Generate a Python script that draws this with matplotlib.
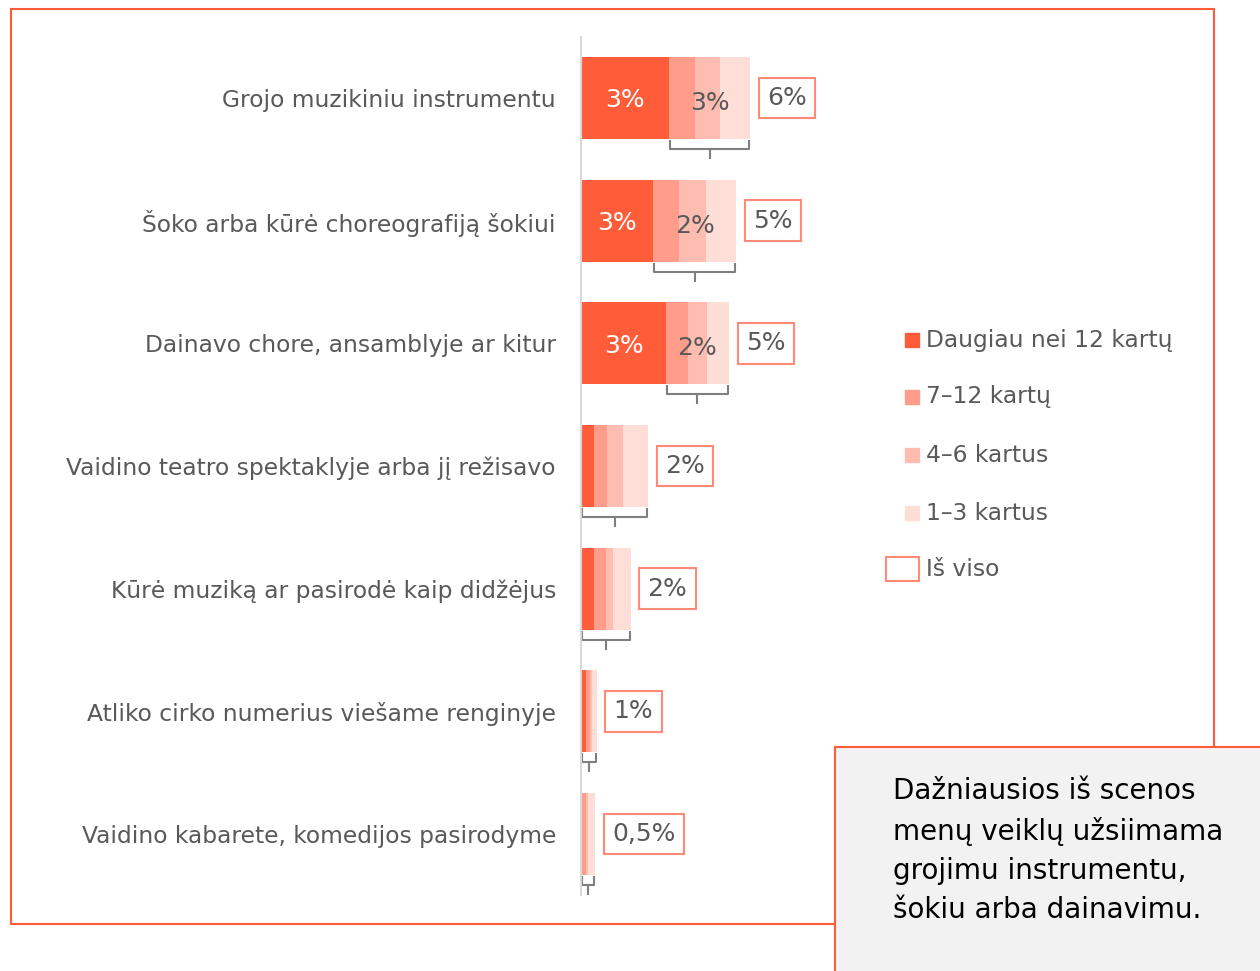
import numpy as np
import matplotlib.pyplot as plt
from matplotlib.patches import Rectangle

categories = [
    'Grojo muzikiniu instrumentu',
    'Šoko arba kūrė choreografiją šokiui',
    'Dainavo chore, ansamblyje ar kitur',
    'Vaidino teatro spektaklyje arba jį režisavo',
    'Kūrė muziką ar pasirodė kaip didžėjus',
    'Atliko cirko numerius viešame renginyje',
    'Vaidino kabarete, komedijos pasirodyme',
]
over_12 = [3.09, 2.53, 2.98, 0.46, 0.46, 0.18, 0.02]
from_7_12 = [0.91, 0.91, 0.77, 0.45, 0.42, 0.12, 0.14]
from_4_6 = [0.88, 0.95, 0.67, 0.56, 0.25, 0.09, 0.10]
from_1_3 = [1.05, 1.05, 0.77, 0.89, 0.61, 0.16, 0.23]
over_12_labels = ['3%', '3%', '3%', '', '', '', '']
rest_labels = ['3%', '2%', '2%', '', '', '', '']
total_labels = ['6%', '5%', '5%', '2%', '2%', '1%', '0,5%']
series_names = ['Daugiau nei 12 kartų', '7–12 kartų', '4–6 kartus', '1–3 kartus']

colors = ['#FF5C3A', '#FF9D8A', '#FFBDB1', '#FFDED8']
orange = '#FF5C3A'
box_edge = '#FF8A76'
grey_text = '#595959'

plt.rcParams['font.family'] = ['DejaVu Sans']

W, H = 1260, 971
fig = plt.figure(figsize=(W / 100, H / 100), dpi=100)

# outer frame
fig.patches.append(Rectangle((11 / W, 1 - 924 / H), (1214 - 11) / W, (924 - 9) / H,
                             transform=fig.transFigure, fill=False,
                             edgecolor=orange, linewidth=1.5, zorder=0))

ax = fig.add_axes([581 / W, 1 - 895.4 / H, 285 / W, 858.8 / H])
y = np.arange(len(categories))
left = np.zeros(len(categories))
for vals, c in zip([over_12, from_7_12, from_4_6, from_1_3], colors):
    ax.barh(y, vals, left=left, height=0.67, color=c, linewidth=0)
    left = left + np.array(vals)
totals = left

ax.set_xlim(0, 10)
ax.set_ylim(len(categories) - 0.5, -0.5)
for s in ['top', 'right', 'bottom']:
    ax.spines[s].set_visible(False)
ax.spines['left'].set_color('#D9D9D9')
ax.spines['left'].set_linewidth(1.5)
ax.set_xticks([])
ax.set_yticks(y)
ax.set_yticklabels(categories, fontsize=16.8, color=grey_text)
ax.tick_params(axis='y', length=0, pad=18)

for i in range(len(categories)):
    # bracket under the lighter segments (or the whole bar for small ones)
    x0 = over_12[i] if over_12_labels[i] else 0
    x1 = totals[i]
    ax.plot([x0 + 0.03, x0 + 0.03, x1 - 0.03, x1 - 0.03],
            [i + 0.35, i + 0.416, i + 0.416, i + 0.35],
            color='#7F7F7F', lw=1.5, solid_joinstyle='round')
    xm = (x0 + x1) / 2
    ax.plot([xm, xm], [i + 0.416, i + 0.49], color='#7F7F7F', lw=1.5)

    if over_12_labels[i]:
        ax.text(over_12[i] / 2, i + 0.02, over_12_labels[i], ha='center', va='center',
                color='white', fontsize=18)
        ax.text((over_12[i] + totals[i]) / 2, i + 0.04, rest_labels[i], ha='center',
                va='center', color=grey_text, fontsize=18)
    ax.annotate(total_labels[i], (totals[i], i), xytext=(17, 0), textcoords='offset pixels',
                ha='left', va='center', fontsize=18, color=grey_text,
                bbox=dict(boxstyle='square,pad=0.33', fc='white', ec=box_edge, lw=1.5))

# legend
leg_y = [340, 397, 455, 513]
for name, c, ly in zip(series_names, colors, leg_y):
    fig.patches.append(Rectangle((905 / W, 1 - (ly + 7) / H), 14 / W, 14 / H,
                                 transform=fig.transFigure, color=c))
    fig.text(926 / W, 1 - ly / H, name, ha='left', va='center', fontsize=16.8, color=grey_text)
fig.patches.append(Rectangle((886 / W, 1 - 581 / H), 33 / W, 24 / H,
                             transform=fig.transFigure, fc='white', ec=box_edge, lw=1.5))
fig.text(926 / W, 1 - 570 / H, 'Iš viso', ha='left', va='center', fontsize=16.8, color=grey_text)

# note box
fig.patches.append(Rectangle((835 / W, -0.05), 0.5, 1 - 747 / H + 0.05,
                             transform=fig.transFigure, fc='#F2F2F2', ec=orange, lw=1.5, zorder=5))
fig.text(893 / W, 1 - 777 / H,
         'Dažniausios iš scenos\nmenų veiklų užsiimama\ngrojimu instrumentu,\nšokiu arba dainavimu.',
         ha='left', va='top', fontsize=20, color='black', linespacing=1.5, zorder=6)

fig.savefig('out.png', dpi=100)
